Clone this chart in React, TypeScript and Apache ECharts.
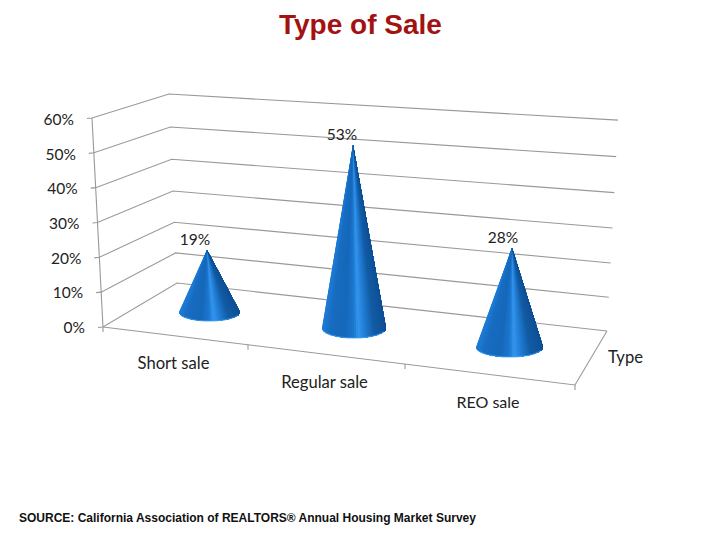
import React, { useEffect, useRef } from "react";
import * as echarts from "echarts";

const chartTitle = "Type of Sale";
const sourceNote = "SOURCE: California Association of REALTORS® Annual Housing Market Survey";
const categories = ["Short sale", "Regular sale", "REO sale"];
const saleShares = [19, 53, 28];
const axisName = "Type";
const tickValues = [0, 10, 20, 30, 40, 50, 60];

// Perspective frame: pixel corners of the floor and how tall a unit looks at each corner.
const FRONT_LEFT = { x: 103, y: 327, slant: -11 / 209, rise: 1, bow: 0 };
const BACK_LEFT = { x: 177, y: 283, slant: -8 / 209, rise: 0.904, bow: 2.5 };
const BACK_RIGHT = { x: 607, y: 331, slant: 11 / 209, rise: 1.009, bow: 2.5 };
const FRONT_RIGHT = { x: 575, y: 385 };
const FRONT_TICK_X = [103, 248, 405, 575];
const FULL_HEIGHT = 209;

// Where each cone stands on the floor, and its perspective height factor.
const CONE_LAYOUT = [
  { cx: 209.5, cy: 312, rx: 30.5, ry: 9, tipDx: -2.5, depth: 0.937, labelX: 195, catX: 173.5, catY: 363, catSize: 16.6 },
  { cx: 354, cy: 328, rx: 32, ry: 10, tipDx: -1, depth: 0.992, labelX: 342, catX: 324.5, catY: 382, catSize: 16.6 },
  { cx: 509.5, cy: 347, rx: 33.5, ry: 10, tipDx: 2.5, depth: 1.018, labelX: 503, catX: 488, catY: 401, catSize: 16 },
];

const LINE_COLOR = "#999999";
const TEXT_COLOR = "#222222";
const LABEL_FONT = "Lato, 'Open Sans', sans-serif";

const SHADE: [number, number[]][] = [
  [0, [30, 125, 215]],
  [0.12, [24, 108, 192]],
  [0.36, [21, 104, 186]],
  [0.5, [28, 120, 208]],
  [0.57, [54, 150, 236]],
  [0.65, [36, 130, 220]],
  [0.82, [18, 92, 165]],
  [1, [15, 80, 150]],
];

function shadeAt(t: number) {
  for (let i = 1; i < SHADE.length; i++) {
    if (t <= SHADE[i][0]) {
      const [a, ca] = SHADE[i - 1];
      const [b, cb] = SHADE[i];
      const k = (t - a) / (b - a);
      const c = ca.map((v, j) => Math.round(v + (cb[j] - v) * k));
      return `rgb(${c[0]},${c[1]},${c[2]})`;
    }
  }
  return "rgb(15,80,150)";
}

function line(points: number[][], color = LINE_COLOR, width = 1.1) {
  return {
    type: "polyline",
    silent: true,
    shape: { points },
    style: { fill: "none", stroke: color, lineWidth: width },
  };
}

function text(content: string, x: number, y: number, align = "center", fontSize = 15.5) {
  return {
    type: "text",
    silent: true,
    style: {
      text: content,
      x,
      y,
      align,
      verticalAlign: "middle",
      fill: TEXT_COLOR,
      fontFamily: LABEL_FONT,
      fontSize,
    },
  };
}

const unitHeight = (api: any, v: number) => api.coord([0, 0])[1] - api.coord([0, v])[1];
const cornerAt = (c: any, h: number) => {
  const f = h / FULL_HEIGHT;
  return [c.x + c.slant * h, c.y - c.rise * h + 4 * c.bow * f * (1 - f)];
};

function renderWallLine(_p: any, api: any) {
  const v = api.value(0);
  const h = unitHeight(api, v);
  const front = cornerAt(FRONT_LEFT, h);
  const back = cornerAt(BACK_LEFT, h);
  const right = cornerAt(BACK_RIGHT, h);
  return {
    type: "group",
    children: [
      line([[front[0] - 5, front[1] + 0.5], front, back, right]),
      text(`${v}%`, 85 + FRONT_LEFT.slant * h, 327 - h * 0.995, "right"),
    ],
  };
}

function renderFloor(_p: any, api: any) {
  const top = cornerAt(FRONT_LEFT, unitHeight(api, 60));
  const edgeY = (x: number) =>
    FRONT_LEFT.y + ((x - FRONT_LEFT.x) / (FRONT_RIGHT.x - FRONT_LEFT.x)) * (FRONT_RIGHT.y - FRONT_LEFT.y);
  return {
    type: "group",
    children: [
      line([top, [FRONT_LEFT.x, FRONT_LEFT.y]]),
      line([[FRONT_LEFT.x, FRONT_LEFT.y], [FRONT_RIGHT.x, FRONT_RIGHT.y], [BACK_RIGHT.x, BACK_RIGHT.y]]),
      ...FRONT_TICK_X.map((x) => line([[x, edgeY(x)], [x, edgeY(x) + 5]])),
      text(axisName, 625.5, 357, "center", 16.6),
    ],
  };
}

function renderCone(_p: any, api: any) {
  const i = api.value(0);
  const v = api.value(1);
  const c = CONE_LAYOUT[i];
  const tip = [c.cx + c.tipDx, c.cy - unitHeight(api, v) * c.depth];
  const steps = 48;
  const point = (k: number) => {
    const a = Math.PI - (Math.PI * k) / steps;
    return [c.cx + c.rx * Math.cos(a), c.cy + c.ry * Math.sin(a)];
  };
  const children: any[] = [];
  // Painter's order: every slice also covers everything to its right, so no seams show.
  for (let k = 0; k < steps; k++) {
    const arc: number[][] = [];
    for (let j = k; j <= steps; j++) arc.push(point(j));
    const mid = point(k + 0.5)[0];
    children.push({
      type: "polygon",
      silent: true,
      shape: { points: [tip, ...arc] },
      style: { fill: shadeAt((mid - (c.cx - c.rx)) / (2 * c.rx)) },
    });
  }
  const rim: number[][] = [];
  for (let k = 6; k <= steps - 6; k++) rim.push(point(k));
  children.push(line(rim, "rgba(62,160,245,0.75)", 1.2));
  children.push(text(`${v}%`, c.labelX, tip[1] - 10.5));
  children.push(text(categories[i], c.catX, c.catY, "center", c.catSize));
  return { type: "group", children };
}

export default function App() {
  const ref = useRef<HTMLDivElement>(null);
  useEffect(() => {
    const chart = echarts.init(ref.current!, undefined, { renderer: "svg" });
    chart.setOption({
      animation: false,
      backgroundColor: "#ffffff",
      title: [
        {
          text: chartTitle,
          left: 274,
          top: 5,
          textStyle: { fontFamily: "'Liberation Sans', Arial, sans-serif", fontWeight: "bold", fontSize: 28, color: "#a31212" },
        },
        {
          text: sourceNote,
          left: 14,
          top: 507,
          textStyle: { fontFamily: "'Liberation Sans', Arial, sans-serif", fontWeight: "bold", fontSize: 12, color: "#111111" },
        },
      ],
      grid: { left: 103, top: 118, width: 472, height: FULL_HEIGHT },
      xAxis: { type: "category", data: categories, show: false },
      yAxis: { type: "value", min: 0, max: 60, interval: 10, show: false },
      series: [
        { type: "custom", coordinateSystem: "cartesian2d", z: 1, silent: true, data: tickValues.map((v) => [v]), encode: { y: 0 }, renderItem: renderWallLine },
        { type: "custom", coordinateSystem: "cartesian2d", z: 2, silent: true, data: [[0]], encode: { y: 0 }, renderItem: renderFloor },
        { type: "custom", coordinateSystem: "cartesian2d", z: 3, silent: true, data: saleShares.map((v, i) => [i, v]), encode: { x: 0, y: 1 }, renderItem: renderCone },
      ],
    });
    return () => chart.dispose();
  }, []);
  return <div ref={ref} style={{ position: "absolute", left: 0, top: 0, width: 720, height: 540 }} />;
}
